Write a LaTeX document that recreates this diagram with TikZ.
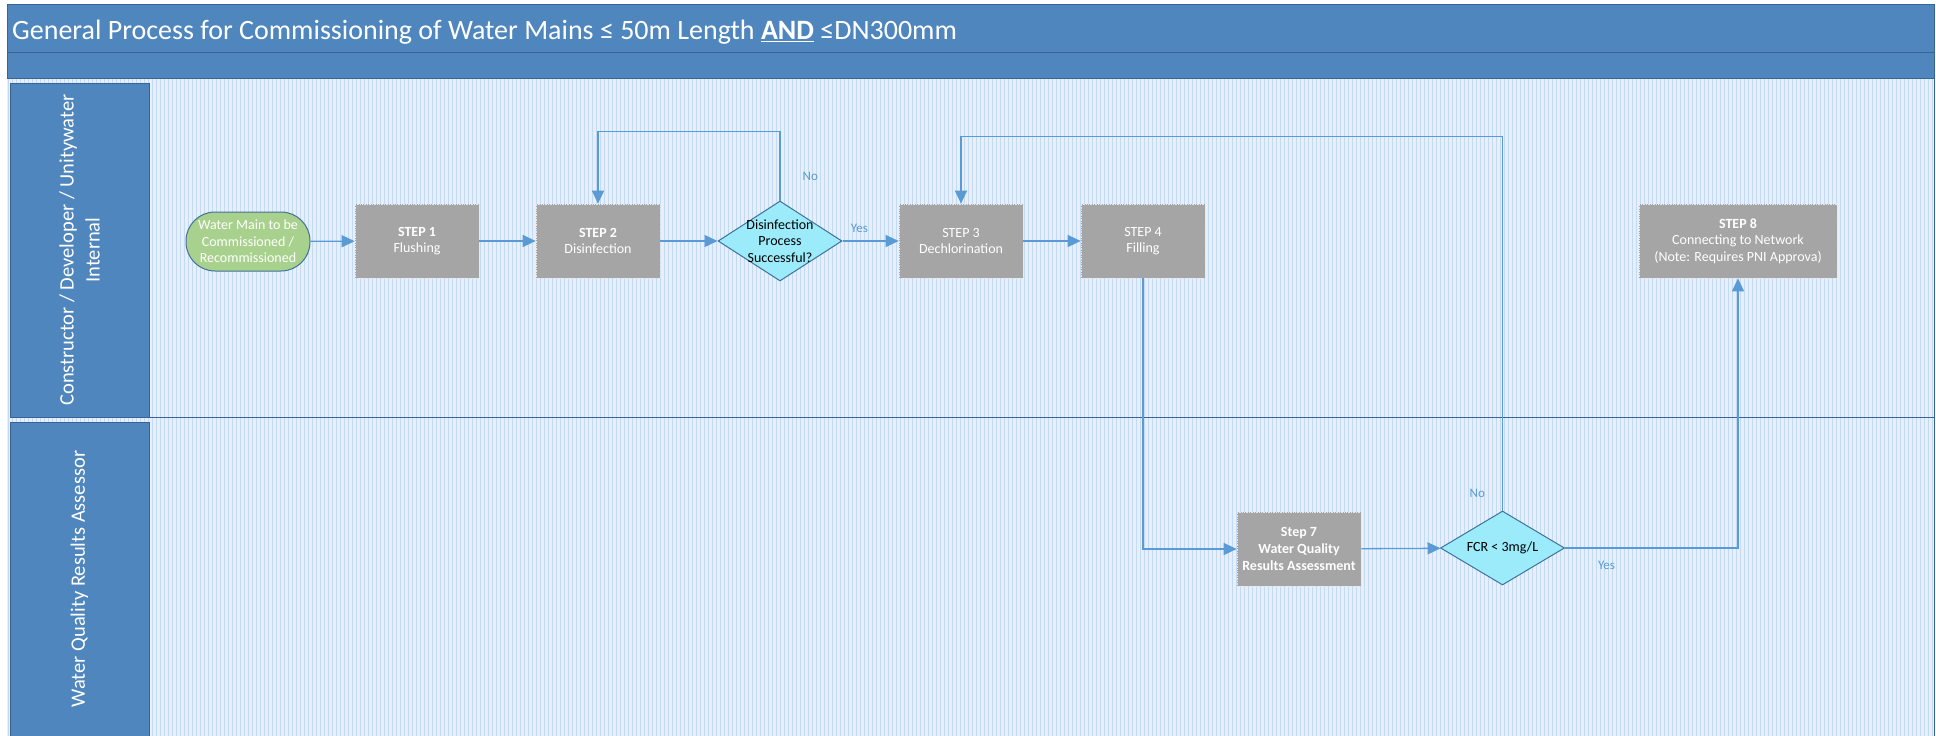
\documentclass[tikz,border=0pt]{standalone}
\usepackage{fontspec}
\setmainfont{Carlito}
\usetikzlibrary{shapes.geometric,arrows.meta,positioning,calc}
\definecolor{laneblue}{RGB}{79,134,189}
\definecolor{laneedge}{RGB}{58,98,148}
\definecolor{gridbg}{RGB}{230,239,250}
\definecolor{gridln}{RGB}{196,218,243}
\definecolor{flowblue}{RGB}{91,155,213}
\definecolor{stepgray}{RGB}{165,165,165}
\definecolor{startgreen}{RGB}{169,209,142}
\definecolor{shapeedge}{RGB}{65,113,156}
\definecolor{deccyan}{RGB}{155,235,250}

\begin{document}
\begin{tikzpicture}[x=1pt,y=-1pt,
    stepbox/.style={rectangle,fill=stepgray,draw=white!75!stepgray,densely dotted,line width=0.7pt,
      text=white,minimum width=124pt,minimum height=74pt,inner sep=2pt,align=center,
      font=\fontsize{14}{16.6}\selectfont},
    startbox/.style={rectangle,rounded corners=29pt,fill=startgreen,draw=shapeedge,line width=1pt,
      text=white,minimum width=124pt,minimum height=59pt,inner sep=1pt,align=center,
      font=\fontsize{14}{16.6}\selectfont},
    decision/.style={diamond,fill=deccyan,draw=shapeedge,line width=1pt,
      minimum width=124pt,minimum height=80pt,inner sep=0pt},
    dectext/.style={text=black,align=center,inner sep=0pt,font=\fontsize{14}{16.6}\selectfont},
    lanehead/.style={rectangle,fill=laneblue,draw=laneedge,line width=0.8pt,text=white,
      align=center,font=\fontsize{20.5}{26}\selectfont},
    flow/.style={draw=flowblue,line width=1.3pt,-{Triangle[length=13pt,width=12pt]}},
    lbl/.style={text=flowblue,inner sep=0pt,font=\fontsize{13}{15}\selectfont}]
  \useasboundingbox (0,0) rectangle (1936,736);
  % background grid of the pool
  \fill[gridbg] (7,78) rectangle (1934,736);
  \draw[gridln,line width=0.5pt,step=4] (7,78) grid (1934,736);
  % title bars
  \draw[fill=laneblue,draw=laneedge,line width=1pt] (7,4) rectangle (1934,52);
  \draw[fill=laneblue,draw=laneedge,line width=1pt] (7,52) rectangle (1934,78);
  \node[anchor=west,text=white,inner sep=0pt,font=\fontsize{28}{32}\selectfont] (title) at (12,32)
    {General Process for Commissioning of Water Mains ≤ 50m Length \underline{\textbf{AND}} ≤DN300mm};
  % lanes
  \draw[laneedge,line width=1pt] (149,417) -- (1934,417);
  \draw[laneedge,line width=1pt] (1934,78) -- (1934,736);
  \node[lanehead,minimum width=334pt,minimum height=139pt,rotate=90] (lane1) at (79.5,250)
    {Constructor / Developer / Unitywater\\Internal};
  \node[lanehead,minimum width=314pt,minimum height=139pt,rotate=90] (lane2) at (79.5,579)
    {Water Quality Results Assessor};
  % process steps
  \node[startbox] (start) at (248,241.5) {Water Main to be\\Commissioned /\\Recommissioned};
  \node[stepbox] (step1) at (417,241) {\textbf{STEP 1}\\Flushing};
  \node[stepbox] (step2) at (598,241) {\textbf{STEP 2}\\Disinfection};
  \node[decision,label={[dectext]center:{Disinfection\\Process\\Successful?}}] (dec1) at (780,241) {};
  \node[stepbox] (step3) at (961,241) {STEP 3\\Dechlorination};
  \node[stepbox] (step4) at (1143,241) {STEP 4\\Filling};
  \node[stepbox,minimum width=198pt] (step8) at (1738,241)
    {\textbf{STEP 8}\\Connecting to Network\\(Note: Requires PNI Approva)};
  \node[stepbox,font=\fontsize{14}{16.6}\selectfont\bfseries] (step7) at (1299,549)
    {Step 7\\Water Quality\\Results Assessment};
  \node[decision,minimum height=74pt,label={[dectext]center:{FCR < 3mg/L}}] (dec2) at (1502.5,548) {};
  % connectors
  \draw[flow] (start) -- (step1);
  \draw[flow] (step1) -- (step2);
  \draw[flow] (step2) -- (dec1);
  \draw[flow] (dec1.north) -- node[lbl,pos=0.35,right=22pt]{No} ++(0,-69) -| (step2.north);
  \draw[flow] (dec1) -- node[lbl,pos=0.3,above=8pt]{Yes} (step3);
  \draw[flow] (step3) -- (step4);
  \draw[flow] (step4.south) |- (step7.west);
  \draw[flow] (step7) -- (dec2);
  \draw[flow] (dec2.north) -- node[lbl,pos=0.045,left=17pt]{No} ++(0,-374) -| (step3.north);
  \draw[flow] (dec2.east) -| node[lbl,pos=0.12,below=13pt]{Yes} (step8.south);
\end{tikzpicture}
\end{document}
